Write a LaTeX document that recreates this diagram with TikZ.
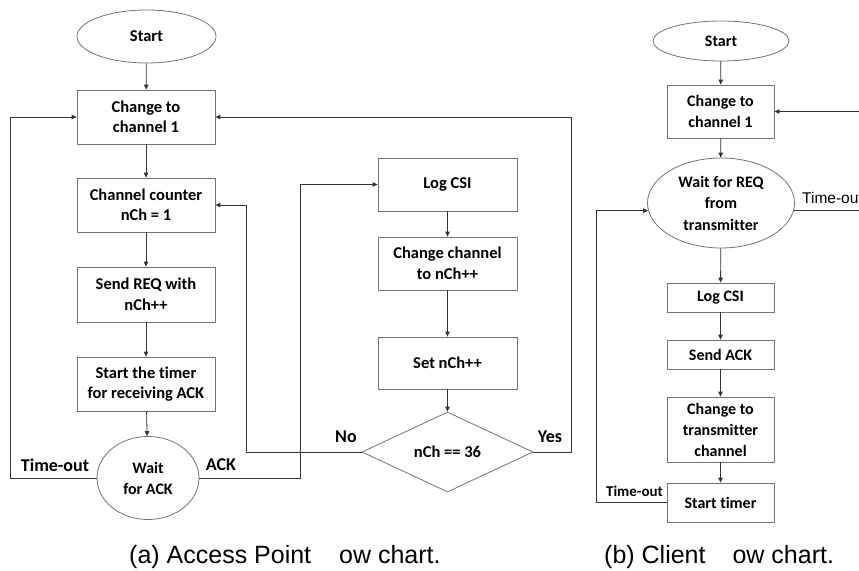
\documentclass[tikz,border=0pt]{standalone}
\usepackage{fontspec}
\setmainfont{Carlito}[Ligatures=NoCommon]
\newfontfamily\capfont{Liberation Sans}
\usetikzlibrary{shapes.geometric,arrows.meta,calc}
\begin{document}
\begin{tikzpicture}[x=1pt,y=-1pt,
  shapeline/.style={draw=black!55, line width=0.8pt, inner sep=0pt, align=center},
  box/.style={shapeline, rectangle, font=\bfseries\fontsize{16.5}{20.5}\selectfont},
  rbox/.style={shapeline, rectangle, font=\bfseries\fontsize{16}{21}\selectfont},
  oval/.style={shapeline, ellipse},
  link/.style={draw=black!80, line width=0.8pt},
  arr/.style={link, -{Triangle[length=5pt,width=4.5pt]}},
  lbl/.style={font=\bfseries\fontsize{18}{20}\selectfont, inner sep=0pt},
  captxt/.style={font=\capfont\fontsize{25}{30}\selectfont, inner sep=0pt, anchor=base west},
]
\useasboundingbox (0,0) rectangle (859,570);
\begin{scope}
\clip (0,0) rectangle (859,570);
% ---------- (a) Access Point ----------
\node[oval, minimum width=139pt, minimum height=53pt, font=\bfseries\fontsize{16.5}{20.5}\selectfont] (s1) at (146.5,36.5) {Start};
\node[box, minimum width=138pt, minimum height=54pt] (c1) at (146,117) {Change to\\channel 1};
\node[box, minimum width=138pt, minimum height=54pt] (cc) at (146,205) {Channel counter\\nCh = 1};
\node[box, minimum width=138pt, minimum height=55pt] (sr) at (146,294.5) {Send REQ with\\nCh++};
\node[box, minimum width=138pt, minimum height=54pt] (st) at (146,384) {Start the timer\\for receiving ACK};
\node[oval, minimum width=102pt, minimum height=83pt, font=\bfseries\fontsize{16}{21}\selectfont] (w) at (148,478) {Wait\\for ACK};
\node[box, minimum width=139pt, minimum height=53pt] (log) at (447.5,184.5) {Log CSI};
\node[box, minimum width=139pt, minimum height=53pt] (chc) at (447.5,263.5) {Change channel\\to nCh++};
\node[box, minimum width=139pt, minimum height=52pt] (set) at (447.5,363) {Set nCh++};
\node[shapeline, diamond, minimum width=171pt, minimum height=80pt, font=\bfseries\fontsize{16.5}{20.5}\selectfont] (dia) at (447.5,452) {nCh == 36};

\coordinate (xl) at (10,0);
\coordinate (xack) at (300,0);
\coordinate (xno) at (246,0);
\coordinate (xyes) at (571,0);

\draw[arr] (s1) -- (c1);
\draw[arr] (c1) -- (cc);
\draw[arr] (cc) -- (sr);
\draw[arr] (sr) -- (st);
\draw[arr] (st) -- (w);
\draw[arr] (w.west) -- (w.west -| xl) |- (c1.west);
\draw[arr] (w.east) -- (w.east -| xack) |- (log.west);
\draw[arr] (log) -- (chc);
\draw[arr] (chc) -- (set);
\draw[arr] (set) -- (dia);
\draw[arr] (dia.west) -- (dia.west -| xno) |- (cc.east);
\draw[arr] (dia.east) -- (dia.east -| xyes) |- (c1.east);

\node[lbl] (lto) at (55,465) {Time-out};
\node[lbl] (lack) at (221,465) {ACK};
\node[lbl] (lno) at (346,437) {No};
\node[lbl] (lyes) at (550,437) {Yes};

% ---------- (b) Client ----------
\node[oval, minimum width=136pt, minimum height=40pt, font=\bfseries\fontsize{16}{21}\selectfont] (s2) at (721,41) {Start};
\node[rbox, minimum width=107pt, minimum height=53pt] (cr) at (720.5,111.5) {Change to\\channel 1};
\node[oval, minimum width=147pt, minimum height=90pt, font=\bfseries\fontsize{16}{21.5}\selectfont] (wr) at (721,203) {Wait for REQ\\from\\transmitter};
\node[rbox, minimum width=107pt, minimum height=29pt] (lr) at (720.5,297.5) {Log CSI};
\node[rbox, minimum width=107pt, minimum height=29pt] (sa) at (720.5,354.5) {Send ACK};
\node[rbox, minimum width=107pt, minimum height=65pt] (ct) at (720.5,429.5) {Change to\\transmitter\\channel};
\node[rbox, minimum width=107pt, minimum height=39pt] (tm) at (720.5,502.5) {Start timer};

\coordinate (xrl) at (596,0);
\coordinate (xrr) at (866,0);

\draw[arr] (s2) -- (cr);
\draw[arr] (cr) -- (wr);
\draw[arr] (wr) -- (lr);
\draw[arr] (lr) -- (sa);
\draw[arr] (sa) -- (ct);
\draw[arr] (ct) -- (tm);
\draw[arr] (tm.west) -- (tm.west -| xrl) |- (wr.186);
\draw[arr] (wr.-6) -- (wr.-6 -| xrr) |- (cr.east);

\node[font=\bfseries\fontsize{15}{17}\selectfont, inner sep=0pt] (rto) at (634.5,491) {Time-out};
\node[font=\capfont\fontsize{15.5}{17}\selectfont, inner sep=0pt, anchor=base west] (rto2) at (802,203) {Time-out};

% ---------- captions ----------
\node[captxt] (capa) at (129,563) {(a) Access Point\hspace{28pt}ow chart.};
\node[captxt] (capb) at (604,563) {(b) Client\hspace{27pt}ow chart.};
\end{scope}
\end{tikzpicture}
\end{document}
